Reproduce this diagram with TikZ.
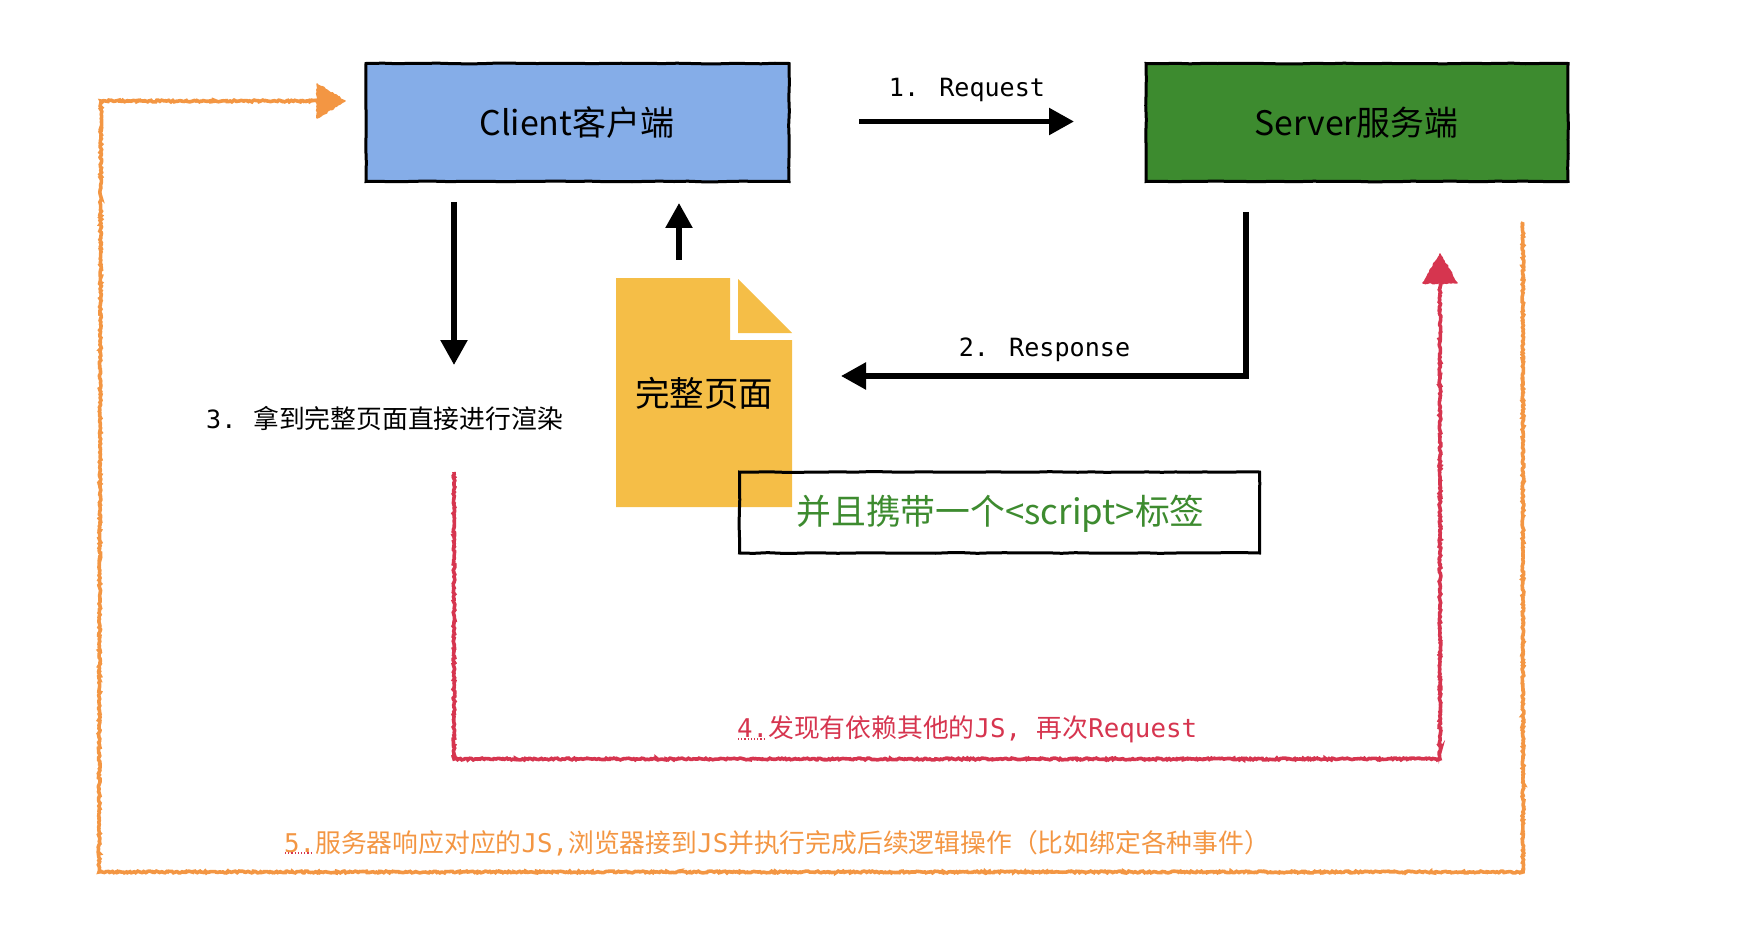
\documentclass[tikz,border=0pt]{standalone}
\usepackage{fontspec}
\usetikzlibrary{arrows.meta,decorations.pathmorphing}
\setmainfont{Noto Sans CJK SC}
\newfontfamily\cjkf{Noto Sans CJK SC}
\newfontfamily\monof{DejaVu Sans Mono}
\definecolor{cblue}{HTML}{85ADE8}
\definecolor{cgreen}{HTML}{3D8B2F}
\definecolor{cdoc}{HTML}{F5BE47}
\definecolor{cred}{HTML}{D6354F}
\definecolor{corange}{HTML}{F39643}
\newcommand{\fs}[1]{\fontsize{#1}{#1}\selectfont}
\tikzset{
  sketchbox/.style={draw=black,line width=3pt,inner sep=0pt,decorate,decoration={random steps,segment length=14pt,amplitude=.35pt}},
  bigtxt/.style={inner sep=0pt,font=\cjkf\fs{34}},
  flow/.style={line width=5.5pt,draw=black,-{Triangle[length=25pt,width=26pt]}},
  rough/.style={line width=3.6pt,decorate,decoration={random steps,segment length=1.6pt,amplitude=.9pt}},
  roughtip/.style={line width=1.5pt,line join=round,decorate,decoration={random steps,segment length=2pt,amplitude=.7pt}},
  squig/.style={draw=cred,line width=1.2pt,dotted},
  lbl/.style={inner sep=0pt,anchor=west,font=\fs{25.8}},
  mono/.style={inner sep=0pt,font=\monof\fs{25.1}}
}
\begin{document}
\begin{tikzpicture}[x=1pt,y=-1pt]
\pgfmathsetseed{7}
\useasboundingbox (0,0) rectangle (1762,928);
% boxes
\node[sketchbox,fill=cblue,minimum width=423pt,minimum height=118pt] (client) at (577.5,122.5) {};
\node[bigtxt] (clientlbl) at (577,122.5) {Client客户端};
\node[sketchbox,fill=cgreen,minimum width=422pt,minimum height=118pt] (server) at (1357,122.5) {};
\node[bigtxt,font=\cjkf\fs{33.8}] (serverlbl) at (1356.5,122.5) {Server服务端};
% document
\fill[cdoc] (616,278) -- (730,278) -- (730,340) -- (792,340) -- (792,507) -- (616,507) -- cycle;
\fill[cdoc] (738,279) -- (792,333) -- (738,333) -- cycle;
\node[bigtxt,font=\cjkf\fs{34.5}] (doc) at (704,393) {完整页面};
\node[sketchbox,minimum width=520pt,minimum height=81pt] (script) at (999.5,512.5) {};
\node[bigtxt,text=cgreen,font=\cjkf\fs{34.8}] (scriptlbl) at (1000.5,513.5) {并且携带一个<script>标签};
% step 1
\coordinate (a1) at (859,121.5);
\coordinate (a2) at (1074,121.5);
\draw[flow] (a1) -- (a2);
\node[mono] (l1) at (967,90) {1. Request};
% step 2
\coordinate (b1) at (1246,212);
\coordinate (b2) at (1246,376);
\coordinate (b3) at (841,376);
\draw[flow] (b1) -- (b2) -- (b3);
\node[mono] (l2) at (1044.5,349.5) {2. Response};
% step 3
\coordinate (c1) at (454,202);
\coordinate (c2) at (454,365);
\draw[flow] (c1) -- (c2);
\coordinate (d1) at (679,260);
\coordinate (d2) at (679,203);
\draw[flow] (d1) -- (d2);
\node[lbl] (l3) at (206,418) {\makebox[47pt][l]{\monof\fs{25.1}3.}拿到完整页面直接进行渲染};
% step 4
\coordinate (e1) at (454,472);
\coordinate (e2) at (454,759);
\coordinate (e3) at (1440,759);
\coordinate (e4) at (1440,283);
\coordinate (e5) at (1440,254);
\draw[rough,draw=cred] (e1) -- (e2) -- (e3) -- (e4);
\filldraw[roughtip,draw=cred,fill=cred] (1423,283) -- (e5) -- (1457,283) -- cycle;
\node[lbl,text=cred] (l4) at (737,729) {{\monof 4.}发现有依赖其他的{\monof JS, }再次{\monof Request}};
\coordinate (s1) at (738,739);
\coordinate (s2) at (765,739);
\draw[squig] (s1) -- (s2);
% step 5
\coordinate (f1) at (1523,222);
\coordinate (f2) at (1523,872);
\coordinate (f3) at (99,872);
\coordinate (f4) at (101,101);
\coordinate (f5) at (317,101);
\coordinate (f6) at (345,101);
\draw[rough,draw=corange] (f1) -- (f2) -- (f3) -- (f4) -- (f5);
\filldraw[roughtip,draw=corange,fill=corange] (317,84) -- (f6) -- (317,118) -- cycle;
\node[lbl,text=corange] (l5) at (284,843) {{\monof 5.}服务器响应对应的{\monof JS,}浏览器接到{\monof JS}并执行完成后续逻辑操作（比如绑定各种事件）};
\coordinate (t1) at (285,853);
\coordinate (t2) at (312,853);
\draw[squig] (t1) -- (t2);
\end{tikzpicture}
\end{document}
